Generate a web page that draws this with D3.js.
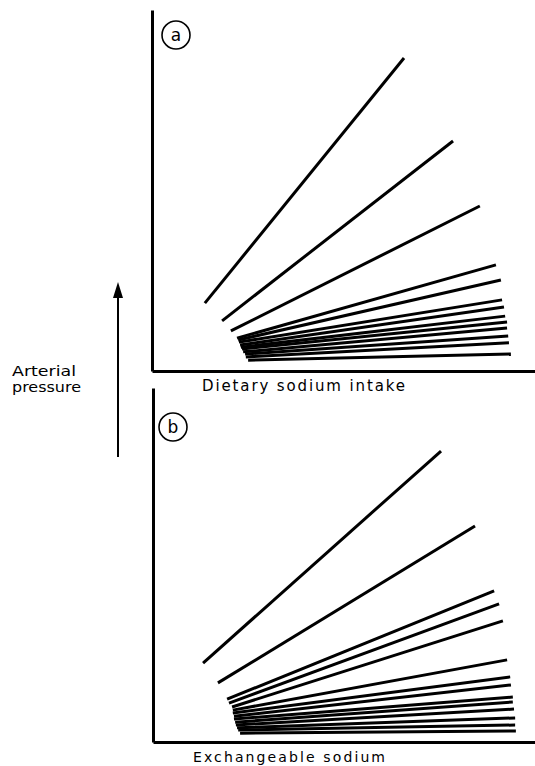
<!DOCTYPE html>
<html>
<head>
<meta charset="utf-8">
<script src="https://cdn.jsdelivr.net/npm/d3@7"></script>
<style>
  body { margin: 0; background: #fff; }
  svg { display: block; }
  text { font-family: "DejaVu Sans", sans-serif; fill: #000; }
</style>
</head>
<body>
<svg width="535" height="766"></svg>
<script>
// panel a : pressure vs dietary sodium intake (arbitrary units, 0-100)
var aStartX = [13.8, 18.3, 20.6, 22.2, 22.5, 22.7, 23.0, 23.2, 23.5, 23.8, 24.3, 24.5, 25.1];
var aStartY = [18.8, 13.9, 11.1, 9.1, 8.6, 8.0, 7.2, 6.6, 6.1, 5.3, 4.7, 3.9, 3.0];
var aEndX   = [65.8, 78.6, 85.6, 89.8, 91.1, 91.4, 91.9, 92.2, 92.7, 92.7, 93.0, 93.2, 93.7];
var aEndY   = [86.7, 63.7, 45.7, 29.4, 25.2, 19.7, 17.7, 15.2, 13.6, 11.9, 9.7, 7.8, 4.7];

// panel b : pressure vs exchangeable sodium
var bStartX = [13.1, 17.0, 19.4, 19.9, 20.7, 20.9, 20.9, 21.2, 21.2, 21.5, 21.7, 22.0, 22.3, 22.8];
var bStartY = [22.3, 16.7, 12.1, 11.0, 9.9, 9.0, 8.2, 7.3, 6.5, 5.6, 4.8, 4.0, 3.4, 2.5];
var bEndX   = [75.4, 84.3, 89.3, 90.6, 91.6, 92.7, 93.5, 93.7, 94.2, 94.2, 94.5, 94.8, 94.8, 95.0];
var bEndY   = [82.2, 61.0, 42.7, 39.0, 34.2, 23.2, 18.4, 16.1, 12.7, 11.3, 9.3, 6.8, 4.8, 3.1];

var panelLetters = ["a", "b"];
var xLabels = ["Dietary sodium intake", "Exchangeable sodium"];
var yLabel = ["Arterial", "pressure"];

var svg = d3.select("svg");

function zip(xs0, ys0, xs1, ys1) {
  return xs0.map(function(d, i) { return [[xs0[i], ys0[i]], [xs1[i], ys1[i]]]; });
}

var panels = [
  {letter: panelLetters[0], lines: zip(aStartX, aStartY, aEndX, aEndY),
   left: 152, right: 535, top: 10, bottom: 371, circle: [176, 35]},
  {letter: panelLetters[1], lines: zip(bStartX, bStartY, bEndX, bEndY),
   left: 153, right: 535, top: 388, bottom: 742, circle: [173, 427]}
];

var line = d3.line();

panels.forEach(function(p) {
  var x = d3.scaleLinear().domain([0, 100]).range([p.left, p.right]);
  var y = d3.scaleLinear().domain([0, 100]).range([p.bottom, p.top]);
  var g = svg.append("g");

  // axes: just the domain lines, no ticks
  g.append("g")
      .attr("transform", "translate(0," + p.bottom + ")")
      .call(d3.axisBottom(x).tickValues([]).tickSizeOuter(0))
    .select(".domain")
      .attr("stroke", "#000")
      .attr("stroke-width", 3);
  g.append("g")
      .attr("transform", "translate(" + p.left + ",0)")
      .call(d3.axisLeft(y).tickValues([]).tickSizeOuter(0))
    .select(".domain")
      .attr("stroke", "#000")
      .attr("stroke-width", 3);

  g.selectAll(".fan")
    .data(p.lines)
    .enter().append("path")
      .attr("class", "fan")
      .attr("fill", "none")
      .attr("stroke", "#000")
      .attr("stroke-width", 3)
      .attr("d", function(d) { return line(d.map(function(v) { return [x(v[0]), y(v[1])]; })); });

  // circled panel letter
  g.append("circle")
      .attr("cx", p.circle[0])
      .attr("cy", p.circle[1])
      .attr("r", 14)
      .attr("fill", "none")
      .attr("stroke", "#000")
      .attr("stroke-width", 1.6);
  g.append("text")
      .attr("x", p.circle[0])
      .attr("y", p.circle[1] + 6)
      .attr("text-anchor", "middle")
      .attr("font-size", 17)
      .text(p.letter);
});

// x axis titles
svg.append("text")
    .attr("x", 202).attr("y", 391)
    .attr("font-size", 15)
    .attr("textLength", 203).attr("lengthAdjust", "spacing")
    .text(xLabels[0]);
svg.append("text")
    .attr("x", 193).attr("y", 762)
    .attr("font-size", 14)
    .attr("textLength", 192).attr("lengthAdjust", "spacing")
    .text(xLabels[1]);

// y label with arrow
svg.append("text")
    .attr("x", 12).attr("y", 376)
    .attr("font-size", 14)
    .attr("textLength", 64).attr("lengthAdjust", "spacingAndGlyphs")
    .text(yLabel[0]);
svg.append("text")
    .attr("x", 12).attr("y", 392)
    .attr("font-size", 14)
    .attr("textLength", 69).attr("lengthAdjust", "spacingAndGlyphs")
    .text(yLabel[1]);

svg.append("line")
    .attr("x1", 118).attr("y1", 457)
    .attr("x2", 118).attr("y2", 292)
    .attr("stroke", "#000")
    .attr("stroke-width", 2);
svg.append("path")
    .attr("d", "M118,282L113,298L123,298Z")
    .attr("fill", "#000");
</script>
</body>
</html>
